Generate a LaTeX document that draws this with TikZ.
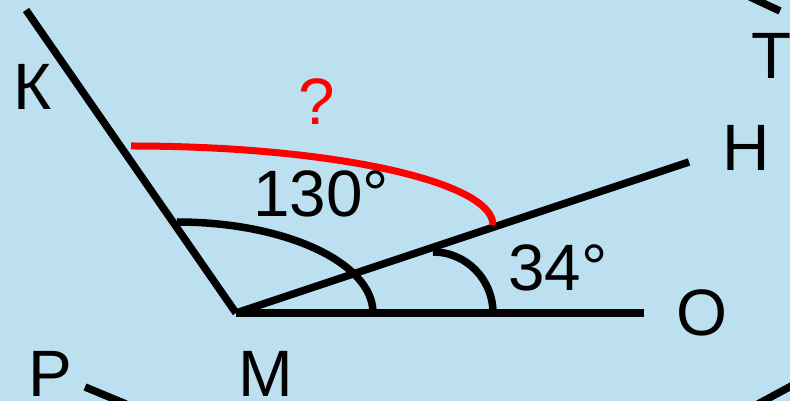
\documentclass[tikz,border=0pt]{standalone}
\usepackage{fontspec}
\setmainfont{Liberation Sans}
\definecolor{bgblue}{RGB}{189,224,240}
\definecolor{qred}{RGB}{255,0,0}
\begin{document}
\begin{tikzpicture}[x=1pt,y=1pt,
  ray/.style={line width=7.5pt,black},
  arcline/.style={line width=7.5pt,black},
  redarc/.style={line width=7pt,qred},
  lbl/.style={font=\fontsize{65.6}{70}\selectfont,inner sep=0pt,anchor=center},
]
\fill[bgblue] (0,0) rectangle (790,401);
\useasboundingbox (0,0) rectangle (790,401);
\clip (0,0) rectangle (790,401);
% points
\coordinate (M) at (236,88);
\coordinate (Kend) at (26,391);
\coordinate (Hend) at (689,239);
\coordinate (Oend) at (644,88);
\coordinate (P1) at (85,14);
\coordinate (P2) at (126,-3);
\coordinate (R1) at (758,-3);
\coordinate (R2) at (795,17);
\coordinate (T1) at (750,404);
\coordinate (T2) at (780,390);
% rays
\draw[ray] (Kend) -- (M);
\draw[ray] (M) -- (Oend);
\draw[ray] (M) -- (Hend);
\draw[ray] (P1) -- (P2);
\draw[ray] (R1) -- (R2);
\draw[ray] (T1) -- (T2);
% arcs
\draw[arcline] (177,179) arc[start angle=90,end angle=0,x radius=196,y radius=91];
\draw[arcline] (433,149) arc[start angle=90,end angle=0,x radius=60,y radius=61];
\draw[redarc] (131,255) arc[start angle=90,end angle=0,x radius=362,y radius=79];
% labels
\node[lbl] (K) at (33,314) {К};
\node[lbl] (T) at (772,345) {Т};
\node[lbl] (H) at (746,253) {Н};
\node[lbl] (O) at (702,88) {О};
\node[lbl] (P) at (50,27) {Р};
\node[lbl] (Mlbl) at (266,27) {М};
\node[lbl] (a130) at (321,207) {130°};
\node[lbl] (a34) at (558,133) {34°};
\node[lbl,text=qred] (q) at (317,299) {?};
\end{tikzpicture}
\end{document}
